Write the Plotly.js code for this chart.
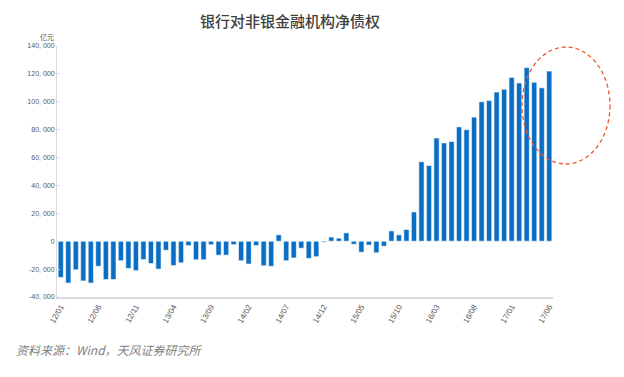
<!DOCTYPE html>
<html><head><meta charset="utf-8">
<script src="https://cdn.plot.ly/plotly-3.0.1.min.js"></script>
<style>html,body{margin:0;padding:0;background:#fff;}#c{width:624px;height:377px;}</style>
</head><body><div id="c"></div>
<script>
const years = ['12','13','14','15','16','17'];
const months = ['01','02','03','04','05','06','07','08','09','10','11','12'];
const categories = [];
for (const y of years) for (const m of months) { if (y === '17' && +m > 6) break; categories.push(y + '/' + m); }
const netClaims = [
  -26000,-30000,-20500,-28500,-30000,-18000,-27500,-27500,-14000,-19500,-21000,-13200,
  -16000,-20000,-6500,-17500,-15500,-3200,-13300,-13300,-2500,-10000,-10000,-2500,
  -14000,-16400,-3100,-17600,-18000,4600,-14000,-12000,-5000,-12300,-11100,-700,
  3000,2200,6000,-2200,-7900,-2800,-8300,-3600,7400,4600,8400,21000,
  57000,54300,74000,70500,71500,82000,80000,89000,100000,101000,107000,109000,
  117500,113500,124500,114000,110000,122000
];
const tickLabels = ['12/01','12/06','12/11','13/04','13/09','14/02','14/07','14/12','15/05','15/10','16/03','16/08','17/01','17/06'];
const yTickVals = [-40000,-20000,0,20000,40000,60000,80000,100000,120000,140000];
const yTickText = ['-40, 000','-20, 000','0','20, 000','40, 000','60, 000','80, 000','100, 000','120, 000','140, 000'];

const W = 624, H = 377, mL = 57, mR = 71, mT = 46, mB = 80;
const pw = W - mL - mR, ph = H - mT - mB;
const px = x => (x - mL) / pw, py = y => 1 - (y - mT) / ph;

const trace = {
  type: 'bar', x: categories, y: netClaims,
  marker: {color: '#0a6fc4', line: {color: '#ffffff', width: 0.6}},
  hoverinfo: 'x+y'
};
const layout = {
  width: W, height: H,
  margin: {l: mL, r: mR, t: mT, b: mB},
  paper_bgcolor: '#fff', plot_bgcolor: '#fff',
  bargap: 0.3, showlegend: false,
  font: {family: 'Arial, "Liberation Sans", sans-serif', color: '#595959'},
  title: {text: '银行对非银金融机构净债权', xref: 'paper', x: px(290), xanchor: 'center', yref: 'container', y: 1 - 22 / H, yanchor: 'middle',
          font: {family: '"Noto Sans CJK SC", sans-serif', size: 15, color: '#404040', weight: 500}},
  xaxis: {
    type: 'category', range: [-0.5, 65.5],
    tickmode: 'array', tickvals: tickLabels, ticktext: tickLabels,
    tickangle: -60, tickfont: {size: 8, color: '#595959'},
    showline: true, linecolor: '#d9d9d9', linewidth: 2, ticks: '',
    showgrid: false, zeroline: false
  },
  yaxis: {
    range: [-40000, 140000], tickmode: 'array', tickvals: yTickVals, ticktext: yTickText,
    tickfont: {size: 7, color: '#595959'},
    showline: true, linecolor: '#d9d9d9', linewidth: 1,
    ticks: 'inside', ticklen: 3, tickcolor: '#d9d9d9',
    showgrid: false, zeroline: false
  },
  shapes: [{
    type: 'circle', xref: 'paper', yref: 'paper',
    x0: px(522), x1: px(610), y0: py(164), y1: py(47),
    line: {color: '#f0582a', width: 1.3, dash: '4px,3px'}
  }],
  annotations: [
    {text: '亿元', xref: 'paper', yref: 'paper', x: px(47), y: py(37), xanchor: 'center', yanchor: 'middle',
     showarrow: false, font: {family: '"Noto Sans CJK SC", sans-serif', size: 7, color: '#555'}},
    {text: '资料来源：Wind，天风证券研究所', xref: 'paper', yref: 'paper', x: px(14), y: py(349),
     xanchor: 'left', yanchor: 'middle', showarrow: false,
     font: {family: '"Noto Sans CJK SC", sans-serif', size: 12, color: '#7f7f7f', style: 'italic'}}
  ]
};
Plotly.newPlot('c', [trace], layout, {displayModeBar: false, staticPlot: true});
</script></body></html>
